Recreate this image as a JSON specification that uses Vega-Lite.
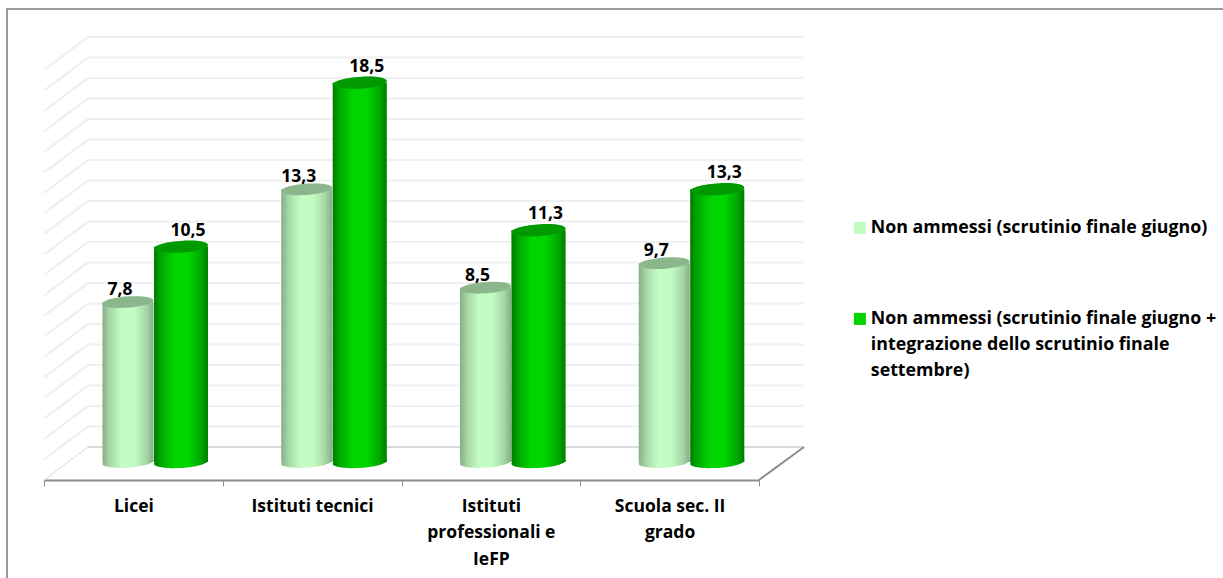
{
  "$schema": "https://vega.github.io/schema/vega-lite/v6.json",
  "width": 1235,
  "height": 590,
  "autosize": {"type": "none"},
  "padding": {"left": 7, "top": 9, "right": 0, "bottom": 0},
  "background": "white",
  "config": {
    "font": "Open Sans",
    "view": {"stroke": "#9a9a9a", "strokeWidth": 2},
    "locale": {"number": {"decimal": ",", "thousands": ".", "grouping": [3], "currency": ["", " €"]}}
  },
  "datasets": {
    "valori": [
      {"categoria": "Licei", "serie": "Non ammessi (scrutinio finale giugno)", "valore": 7.8},
      {"categoria": "Licei", "serie": "Non ammessi (scrutinio finale giugno + integrazione dello scrutinio finale settembre)", "valore": 10.5},
      {"categoria": "Istituti tecnici", "serie": "Non ammessi (scrutinio finale giugno)", "valore": 13.3},
      {"categoria": "Istituti tecnici", "serie": "Non ammessi (scrutinio finale giugno + integrazione dello scrutinio finale settembre)", "valore": 18.5},
      {"categoria": "Istituti professionali e IeFP", "serie": "Non ammessi (scrutinio finale giugno)", "valore": 8.5},
      {"categoria": "Istituti professionali e IeFP", "serie": "Non ammessi (scrutinio finale giugno + integrazione dello scrutinio finale settembre)", "valore": 11.3},
      {"categoria": "Scuola sec. II grado", "serie": "Non ammessi (scrutinio finale giugno)", "valore": 9.7},
      {"categoria": "Scuola sec. II grado", "serie": "Non ammessi (scrutinio finale giugno + integrazione dello scrutinio finale settembre)", "valore": 13.3}
    ],
    "griglia": [
      {"livello": 0}, {"livello": 1}, {"livello": 2}, {"livello": 3}, {"livello": 4}, {"livello": 5}, {"livello": 6},
      {"livello": 7}, {"livello": 8}, {"livello": 9}, {"livello": 10}, {"livello": 11}, {"livello": 12}, {"livello": 13},
      {"livello": 14}, {"livello": 15}, {"livello": 16}, {"livello": 17}, {"livello": 18}, {"livello": 19}, {"livello": 20}
    ]
  },
  "resolve": {"scale": {"x": "independent", "size": "independent"}, "axis": {"x": "independent"}},
  "layer": [
    {
      "description": "Back wall gridlines",
      "data": {"name": "griglia"},
      "mark": {"type": "rule", "color": "#f0f0f0", "strokeWidth": 2.2, "xOffset": 44, "x2Offset": 44, "yOffset": -15},
      "encoding": {
        "x": {"datum": 0, "type": "quantitative", "axis": null, "scale": {"domain": [0, 4], "range": [37, 752]}},
        "x2": {"datum": 4},
        "y": {"field": "livello", "type": "quantitative", "axis": null, "scale": {"domain": [0, 20], "range": [453, 43]}}
      }
    },
    {
      "description": "Side wall gridlines",
      "data": {"name": "griglia"},
      "transform": [{"filter": "datum.livello > 0"}],
      "mark": {"type": "rule", "color": "#f0f0f0", "strokeWidth": 2.2, "x2Offset": 44, "yOffset": 18, "y2Offset": -15},
      "encoding": {
        "x": {"datum": 0, "type": "quantitative", "axis": null, "scale": {"domain": [0, 4], "range": [37, 752]}},
        "x2": {"datum": 0},
        "y": {"field": "livello", "type": "quantitative", "axis": null},
        "y2": {"field": "livello"}
      }
    },
    {
      "description": "Floor: back edge",
      "data": {"name": "griglia"},
      "transform": [{"filter": "datum.livello == 0"}],
      "mark": {"type": "rule", "color": "#d9d9d9", "strokeWidth": 2, "xOffset": 44, "x2Offset": 44, "yOffset": -15},
      "encoding": {
        "x": {"datum": 0, "type": "quantitative", "axis": null, "scale": {"domain": [0, 4], "range": [37, 752]}},
        "x2": {"datum": 4},
        "y": {"field": "livello", "type": "quantitative", "axis": null}
      }
    },
    {
      "description": "Floor: left edge",
      "data": {"name": "griglia"},
      "transform": [{"filter": "datum.livello == 0"}],
      "mark": {"type": "rule", "color": "#d9d9d9", "strokeWidth": 1, "x2Offset": 44, "yOffset": 18, "y2Offset": -15},
      "encoding": {
        "x": {"datum": 0, "type": "quantitative", "axis": null, "scale": {"domain": [0, 4], "range": [37, 752]}},
        "x2": {"datum": 0},
        "y": {"field": "livello", "type": "quantitative", "axis": null},
        "y2": {"field": "livello"}
      }
    },
    {
      "description": "Floor: right edge",
      "data": {"name": "griglia"},
      "transform": [{"filter": "datum.livello == 0"}],
      "mark": {"type": "rule", "color": "#8c8c8c", "strokeWidth": 2, "x2Offset": 45, "yOffset": 18, "y2Offset": -15},
      "encoding": {
        "x": {"datum": 4, "type": "quantitative", "axis": null, "scale": {"domain": [0, 4], "range": [37, 752]}},
        "x2": {"datum": 4},
        "y": {"field": "livello", "type": "quantitative", "axis": null},
        "y2": {"field": "livello"}
      }
    },
    {
      "description": "Cylinder bases, with the legend",
      "data": {"name": "valori"},
      "mark": {"type": "point", "filled": true, "opacity": 1, "shape": "M-1,0.05 A1,0.22,-4,1,1,1,-0.05 A1,0.22,-4,1,1,-1,0.05 Z"},
      "encoding": {
        "x": {"field": "categoria", "type": "nominal", "sort": null, "axis": null, "scale": {"range": [37, 752], "paddingInner": 0, "paddingOuter": 0}},
        "xOffset": {"field": "serie", "type": "nominal", "sort": null, "scale": {"range": [57.5, 163.5]}},
        "y": {"datum": 0, "type": "quantitative", "axis": null},
        "size": {"field": "serie", "type": "ordinal", "sort": null, "legend": null, "scale": {"range": [2601, 2916]}},
        "color": {
          "field": "serie", "type": "nominal", "sort": null,
          "scale": {"range": ["#c3fdc3", "#00d500"]},
          "legend": {
            "title": null, "orient": "none", "legendX": 844, "legendY": 210,
            "symbolType": "square", "symbolSize": 144, "symbolStrokeWidth": 0, "symbolOpacity": 1,
            "labelFont": "Open Sans", "labelFontWeight": "bold", "labelFontSize": 17.8, "labelColor": "#000000",
            "labelLimit": 370, "labelOffset": 2, "rowPadding": 72,
            "encoding": {"labels": {"lineHeight": {"value": 26}}},
            "labelExpr": "indexof(datum.label, '+') > 0 ? ['Non ammessi (scrutinio finale giugno +', 'integrazione dello scrutinio finale', 'settembre)'] : '\u2002' + datum.label"
          }
        }
      }
    },
    {
      "description": "Curved shading across each base",
      "data": {"name": "valori"},
      "mark": {
        "type": "point", "filled": true, "shape": "M-1,0.05 A1,0.22,-4,1,1,1,-0.05 A1,0.22,-4,1,1,-1,0.05 Z",
        "fill": {
          "gradient": "linear", "x1": 0, "x2": 1, "y1": 0, "y2": 0,
          "stops": [
            {"offset": 0, "color": "rgba(0,0,0,0.42)"},
            {"offset": 0.14, "color": "rgba(0,0,0,0.2)"},
            {"offset": 0.38, "color": "rgba(0,0,0,0)"},
            {"offset": 0.62, "color": "rgba(0,0,0,0)"},
            {"offset": 0.86, "color": "rgba(0,0,0,0.2)"},
            {"offset": 1, "color": "rgba(0,0,0,0.42)"}
          ]
        }
      },
      "encoding": {
        "x": {"field": "categoria", "type": "nominal", "sort": null, "axis": null, "scale": {"range": [37, 752], "paddingInner": 0, "paddingOuter": 0}},
        "xOffset": {"field": "serie", "type": "nominal", "sort": null, "scale": {"range": [57.5, 163.5]}},
        "y": {"datum": 0, "type": "quantitative", "axis": null},
        "size": {"field": "serie", "type": "ordinal", "sort": null, "legend": null, "scale": {"range": [2601, 2916]}},
        "opacity": {"field": "serie", "type": "nominal", "sort": null, "legend": null, "scale": {"range": [0.75, 1]}}
      }
    },
    {
      "description": "Cylinder bodies with the category axis",
      "data": {"name": "valori"},
      "mark": {"type": "bar"},
      "encoding": {
        "x": {
          "field": "categoria", "type": "nominal", "sort": null, "title": null,
          "scale": {"range": [37, 752], "paddingInner": 0, "paddingOuter": 0},
          "axis": {
            "offset": -119,
            "domainColor": "#8c8c8c", "domainWidth": 2,
            "tickColor": "#8c8c8c", "tickWidth": 1, "tickSize": 6, "tickBand": "extent",
            "labelAngle": 0, "labelFont": "Open Sans", "labelFontWeight": "bold", "labelFontSize": 17.5, "labelColor": "#000000",
            "labelPadding": 11, "labelLineHeight": 26.5, "labelBaseline": "top", "labelLimit": 170, "labelOverlap": false,
            "labelExpr": "datum.value == 'Istituti professionali e IeFP' ? ['Istituti', 'professionali e', 'IeFP'] : datum.value == 'Scuola sec. II grado' ? ['Scuola sec. II', 'grado'] : datum.label"
          }
        },
        "xOffset": {"field": "serie", "type": "nominal", "sort": null, "scale": {"range": [57.5, 163.5]}},
        "y": {"field": "valore", "type": "quantitative", "axis": null},
        "y2": {"datum": 0},
        "size": {"field": "serie", "type": "ordinal", "sort": null, "legend": null, "scale": {"range": [51, 54]}},
        "color": {"field": "serie", "type": "nominal", "sort": null}
      }
    },
    {
      "description": "Curved shading across each cylinder body",
      "data": {"name": "valori"},
      "mark": {
        "type": "bar",
        "fill": {
          "gradient": "linear", "x1": 0, "x2": 1, "y1": 0, "y2": 0,
          "stops": [
            {"offset": 0, "color": "rgba(0,0,0,0.42)"},
            {"offset": 0.14, "color": "rgba(0,0,0,0.2)"},
            {"offset": 0.38, "color": "rgba(0,0,0,0)"},
            {"offset": 0.62, "color": "rgba(0,0,0,0)"},
            {"offset": 0.86, "color": "rgba(0,0,0,0.2)"},
            {"offset": 1, "color": "rgba(0,0,0,0.42)"}
          ]
        }
      },
      "encoding": {
        "x": {"field": "categoria", "type": "nominal", "sort": null, "axis": null, "scale": {"range": [37, 752], "paddingInner": 0, "paddingOuter": 0}},
        "xOffset": {"field": "serie", "type": "nominal", "sort": null, "scale": {"range": [57.5, 163.5]}},
        "y": {"field": "valore", "type": "quantitative", "axis": null},
        "y2": {"datum": 0},
        "size": {"field": "serie", "type": "ordinal", "sort": null, "legend": null, "scale": {"range": [51, 54]}},
        "opacity": {"field": "serie", "type": "nominal", "sort": null, "legend": null, "scale": {"range": [0.75, 1]}}
      }
    },
    {
      "description": "Cylinder tops, colour",
      "data": {"name": "valori"},
      "mark": {"type": "point", "filled": true, "opacity": 1, "shape": "M-1,0.05 A1,0.22,-4,1,1,1,-0.05 A1,0.22,-4,1,1,-1,0.05 Z"},
      "encoding": {
        "x": {"field": "categoria", "type": "nominal", "sort": null, "axis": null, "scale": {"range": [37, 752], "paddingInner": 0, "paddingOuter": 0}},
        "xOffset": {"field": "serie", "type": "nominal", "sort": null, "scale": {"range": [57.5, 163.5]}},
        "y": {"field": "valore", "type": "quantitative", "axis": null},
        "size": {"field": "serie", "type": "ordinal", "sort": null, "legend": null, "scale": {"range": [2601, 2916]}},
        "color": {"field": "serie", "type": "nominal", "sort": null}
      }
    },
    {
      "description": "Cylinder tops, darkening",
      "data": {"name": "valori"},
      "mark": {"type": "point", "filled": true, "color": "#000000", "opacity": 0.28, "shape": "M-1,0.05 A1,0.22,-4,1,1,1,-0.05 A1,0.22,-4,1,1,-1,0.05 Z"},
      "encoding": {
        "x": {"field": "categoria", "type": "nominal", "sort": null, "axis": null, "scale": {"range": [37, 752], "paddingInner": 0, "paddingOuter": 0}},
        "xOffset": {"field": "serie", "type": "nominal", "sort": null, "scale": {"range": [57.5, 163.5]}},
        "y": {"field": "valore", "type": "quantitative", "axis": null},
        "size": {"field": "serie", "type": "ordinal", "sort": null, "legend": null, "scale": {"range": [2601, 2916]}}
      }
    },
    {
      "description": "Value labels, first series",
      "data": {"name": "valori"},
      "transform": [{"filter": "indexof(datum.serie, '+') < 0"}],
      "mark": {"type": "text", "font": "Open Sans", "fontWeight": "bold", "fontSize": 17.5, "color": "#000000", "dx": -8, "dy": -12},
      "encoding": {
        "x": {"field": "categoria", "type": "nominal", "sort": null, "axis": null, "scale": {"range": [37, 752], "paddingInner": 0, "paddingOuter": 0}},
        "xOffset": {"field": "serie", "type": "nominal", "sort": null, "scale": {"domain": ["Non ammessi (scrutinio finale giugno)", "Non ammessi (scrutinio finale giugno + integrazione dello scrutinio finale settembre)"], "range": [57.5, 163.5]}},
        "y": {"field": "valore", "type": "quantitative", "axis": null},
        "text": {"field": "valore", "type": "quantitative", "format": ".1f"}
      }
    },
    {
      "description": "Value labels, second series",
      "data": {"name": "valori"},
      "transform": [{"filter": "indexof(datum.serie, '+') > 0"}],
      "mark": {"type": "text", "font": "Open Sans", "fontWeight": "bold", "fontSize": 17.5, "color": "#000000", "dx": 7, "dy": -16},
      "encoding": {
        "x": {"field": "categoria", "type": "nominal", "sort": null, "axis": null, "scale": {"range": [37, 752], "paddingInner": 0, "paddingOuter": 0}},
        "xOffset": {"field": "serie", "type": "nominal", "sort": null, "scale": {"domain": ["Non ammessi (scrutinio finale giugno)", "Non ammessi (scrutinio finale giugno + integrazione dello scrutinio finale settembre)"], "range": [57.5, 163.5]}},
        "y": {"field": "valore", "type": "quantitative", "axis": null},
        "text": {"field": "valore", "type": "quantitative", "format": ".1f"}
      }
    }
  ]
}
